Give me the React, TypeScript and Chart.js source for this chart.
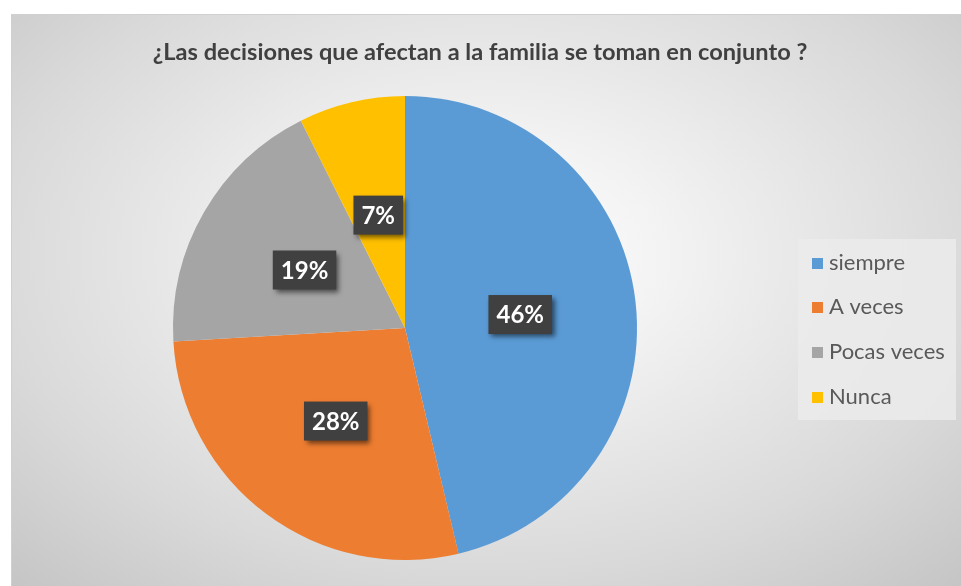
import React, { useEffect, useRef } from "react";
import { Chart, registerables } from "chart.js";

Chart.register(...registerables);

const titleText = "¿Las decisiones que afectan a la familia se toman en conjunto ?";
const categories = ["siempre", "A veces", "Pocas veces", "Nunca"];
const counts = [25, 15, 10, 4];
const sliceColors = ["#5B9BD5", "#ED7D31", "#A5A5A5", "#FFC000"];

const FONT = "Lato, 'Open Sans', sans-serif";

const decorPlugin = {
  id: "decor",
  afterDraw(chart: any) {
    const ctx: CanvasRenderingContext2D = chart.ctx;
    const ds = chart.data.datasets[0];
    const total = (ds.data as number[]).reduce((a, b) => a + b, 0);
    const meta = chart.getDatasetMeta(0);

    // title
    ctx.save();
    ctx.fillStyle = "#404040";
    ctx.font = `bold 23.6px ${FONT}`;
    ctx.textAlign = "center";
    ctx.textBaseline = "middle";
    ctx.fillText(titleText, 480, 52);
    ctx.restore();

    // data labels
    meta.data.forEach((arc: any, i: number) => {
      const pos = arc.getCenterPoint();
      const pct = Math.round(((ds.data[i] as number) / total) * 100) + "%";
      ctx.save();
      ctx.font = `bold 24px ${FONT}`;
      const tw = ctx.measureText(pct).width;
      const w = tw + 16;
      const h = 39;
      ctx.shadowColor = "rgba(0,0,0,0.55)";
      ctx.shadowBlur = 5;
      ctx.shadowOffsetX = 3;
      ctx.shadowOffsetY = 3;
      ctx.fillStyle = "#404040";
      ctx.fillRect(pos.x - w / 2, pos.y - h / 2, w, h);
      ctx.shadowColor = "transparent";
      ctx.fillStyle = "#ffffff";
      ctx.textAlign = "center";
      ctx.textBaseline = "middle";
      ctx.fillText(pct, pos.x, pos.y + 1);
      ctx.restore();
    });

    // legend
    ctx.save();
    ctx.fillStyle = "rgba(235,235,235,0.85)";
    ctx.fillRect(798, 239, 158, 181);
    const rowY = [263, 307, 352, 397];
    chart.data.labels.forEach((lab: string, i: number) => {
      const y = rowY[i];
      ctx.fillStyle = sliceColors[i];
      ctx.fillRect(812, y - 5, 11, 11);
      ctx.fillStyle = "#595959";
      ctx.font = `22px ${FONT}`;
      ctx.textAlign = "left";
      ctx.textBaseline = "middle";
      ctx.fillText(lab, 829, y);
    });
    ctx.restore();
  },
};

export default function App() {
  const ref = useRef<HTMLCanvasElement | null>(null);

  useEffect(() => {
    document.body.style.margin = "0";
    const canvas = ref.current;
    if (!canvas) return;
    const chart = new Chart(canvas, {
      type: "pie",
      data: {
        labels: categories,
        datasets: [
          {
            data: counts,
            backgroundColor: sliceColors,
            borderWidth: 0,
          },
        ],
      },
      options: {
        responsive: false,
        animation: false,
        layout: { padding: { left: 173, right: 324, top: 96, bottom: 26 } },
        plugins: {
          legend: { display: false },
          title: { display: false },
          tooltip: { enabled: false },
        },
      },
      plugins: [decorPlugin],
    });
    return () => chart.destroy();
  }, []);

  return (
    <div style={{ position: "relative", width: 961, height: 586, background: "#ffffff", overflow: "hidden" }}>
      <div
        style={{
          position: "absolute",
          left: 11,
          top: 14,
          width: 950,
          height: 572,
          borderTop: "1px solid #d0d0d0",
          borderLeft: "1px solid #d0d0d0",
          boxSizing: "border-box",
          background:
            "radial-gradient(ellipse 75% 80% at 50% 42%, #ffffff 0%, #f3f3f3 25%, #d9d9d9 70%, #c4c4c4 100%)",
        }}
      />
      <canvas ref={ref} width={961} height={586} style={{ position: "absolute", left: 0, top: 0 }} />
    </div>
  );
}
